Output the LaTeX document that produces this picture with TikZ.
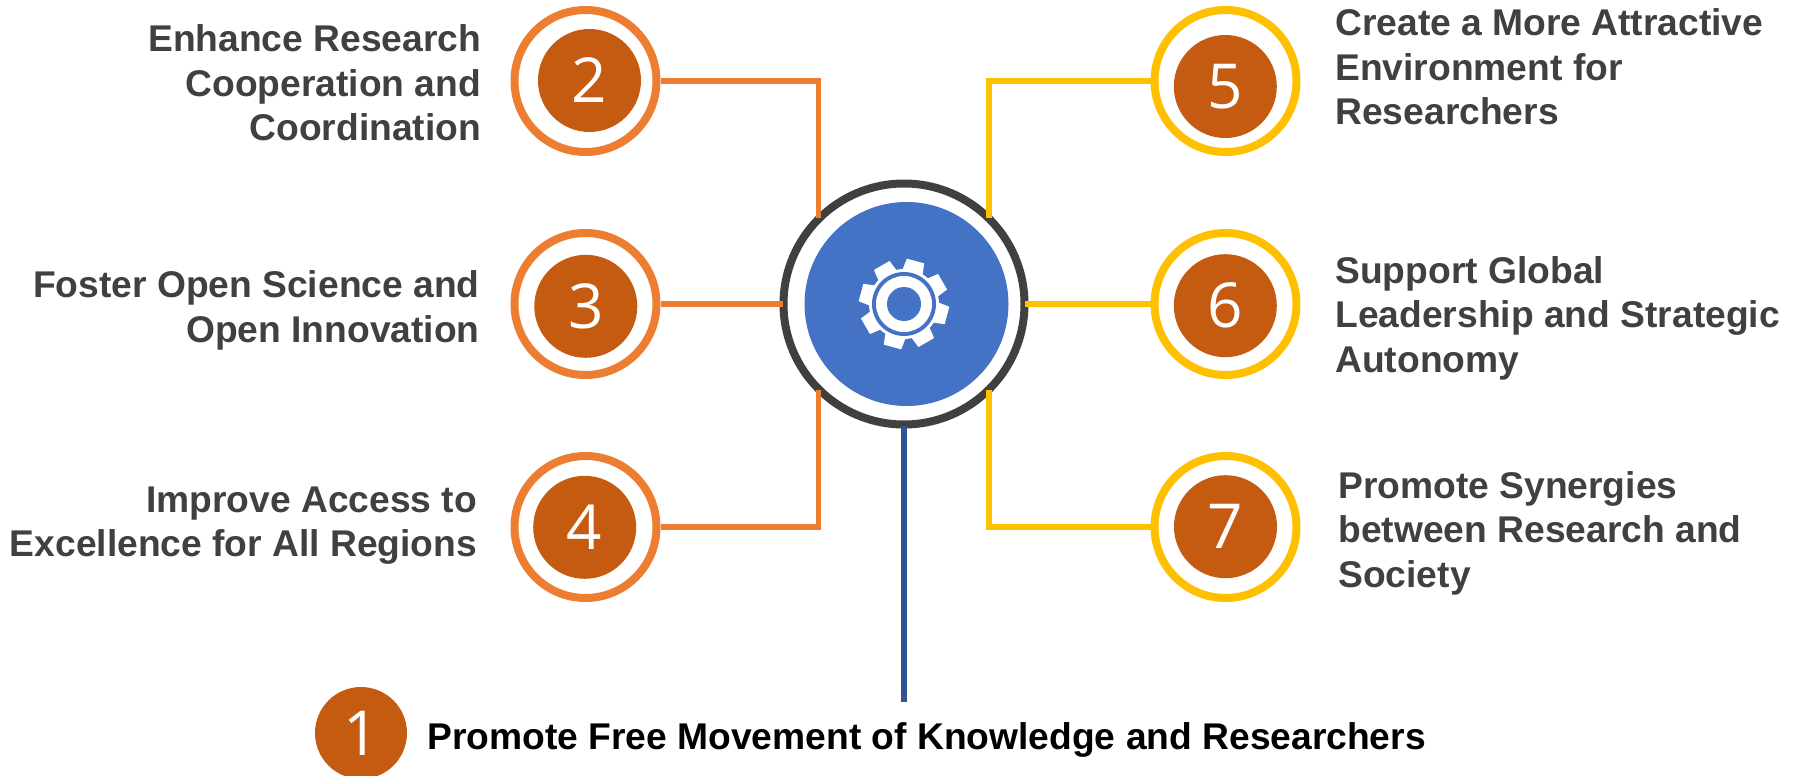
\documentclass[tikz,border=0pt]{standalone}
\usepackage{fontspec}
\setmainfont{Liberation Sans}
\newfontfamily\digitfont{Open Sans}
\definecolor{darkText}{HTML}{404040}
\definecolor{rustFill}{HTML}{C55A11}
\definecolor{orangeLine}{HTML}{ED7D31}
\definecolor{yellowLine}{HTML}{FFC000}
\definecolor{hubBlue}{HTML}{4472C4}
\definecolor{stemBlue}{HTML}{2F5597}
\tikzset{
  ring/.style = {circle, draw = #1, line width = 4pt, fill = white, minimum size = 71pt, inner sep = 0pt},
  badge/.style = {circle, fill = rustFill, text = white, minimum size = 51.5pt, inner sep = 0pt, font = \digitfont\fontsize{31}{31}\selectfont},
  wire/.style = {draw = #1, line width = 2.6pt},
  goal/.style = {inner sep = 0pt, text = darkText, font = \bfseries\fontsize{18.6}{22.3}\selectfont}
}
\begin{document}
\begin{tikzpicture}[x = 0.5pt, y = -0.5pt]
  \useasboundingbox (0, 0) rectangle (1801, 776);

  \coordinate (hubA) at (818.5, 218);
  \coordinate (hubB) at (783, 304);
  \coordinate (hubC) at (818.5, 390);
  \coordinate (hubD) at (989, 218);
  \coordinate (hubE) at (1025, 304);
  \coordinate (hubF) at (989, 390);
  \coordinate (hubG) at (904, 425.5);
  \coordinate (stemEnd) at (904, 702);

  \node[ring = orangeLine] (ringTwo) at (585.5, 81) {};
  \node[ring = orangeLine] (ringThree) at (585.5, 304) {};
  \node[ring = orangeLine] (ringFour) at (585.5, 527) {};
  \node[ring = yellowLine] (ringFive) at (1225.5, 81) {};
  \node[ring = yellowLine] (ringSix) at (1225.5, 304) {};
  \node[ring = yellowLine] (ringSeven) at (1225.5, 527) {};

  \node[circle, draw = darkText, line width = 4pt, minimum size = 120.5pt, inner sep = 0pt] (hub) at (904, 304) {};
  \node[circle, fill = hubBlue, minimum size = 102pt, inner sep = 0pt] (hubDisc) at (906.5, 304) {};

  \draw[wire = orangeLine] (ringTwo.east) -| (hubA);
  \draw[wire = orangeLine] (ringThree.east) -- (hubB);
  \draw[wire = orangeLine] (ringFour.east) -| (hubC);
  \draw[wire = yellowLine] (ringFive.west) -| (hubD);
  \draw[wire = yellowLine] (ringSix.west) -- (hubE);
  \draw[wire = yellowLine] (ringSeven.west) -| (hubF);
  \draw[wire = stemBlue] (hubG) -- (stemEnd);

  \node[badge] (badgeTwo) at (589.5, 80.5) {2};
  \node[badge] (badgeThree) at (585.8, 306.3) {3};
  \node[badge] (badgeFour) at (584.7, 527.3) {4};
  \node[badge] (badgeFive) at (1225.3, 86.5) {5};
  \node[badge] (badgeSix) at (1225.3, 305.7) {6};
  \node[badge] (badgeSeven) at (1225.5, 526.7) {7};
  \node[badge, minimum size = 46pt] (badgeOne) at (361, 733) {1};

  \begin{scope}[shift = {(904, 304)}]
    \foreach \a in {75, 120, ..., 390}
      \fill[white, rotate = \a] (32, -10.5) -- (44.5, -9) -- (44.5, 9) -- (32, 10.5) -- cycle;
    \fill[white] (0, 0) circle (35);
    \fill[hubBlue] (0, 0) circle (32);
    \fill[white] (0, 0) circle (28);
    \fill[hubBlue] (0, 0) circle (17);
  \end{scope}

  \node[goal, anchor = east, align = right] (goalTwo) at (481.5, 83) {Enhance Research\\Cooperation and\\Coordination};
  \node[goal, anchor = east, align = right] (goalThree) at (480, 310.5) {Foster Open Science and\\Open Innovation};
  \node[goal, anchor = east, align = right] (goalFour) at (477.5, 525.5) {Improve Access to\\Excellence for All Regions};
  \node[goal, anchor = west, align = left] (goalFive) at (1335, 67) {Create a More Attractive\\Environment for\\Researchers};
  \node[goal, anchor = west, align = left] (goalSix) at (1335, 318) {Support Global\\Leadership and Strategic\\Autonomy};
  \node[goal, anchor = west, align = left] (goalSeven) at (1338, 533) {Promote Synergies\\between Research and\\Society};
  \node[goal, anchor = base west, text = black] (goalOne) at (427, 749) {Promote Free Movement of Knowledge and Researchers};
\end{tikzpicture}
\end{document}
